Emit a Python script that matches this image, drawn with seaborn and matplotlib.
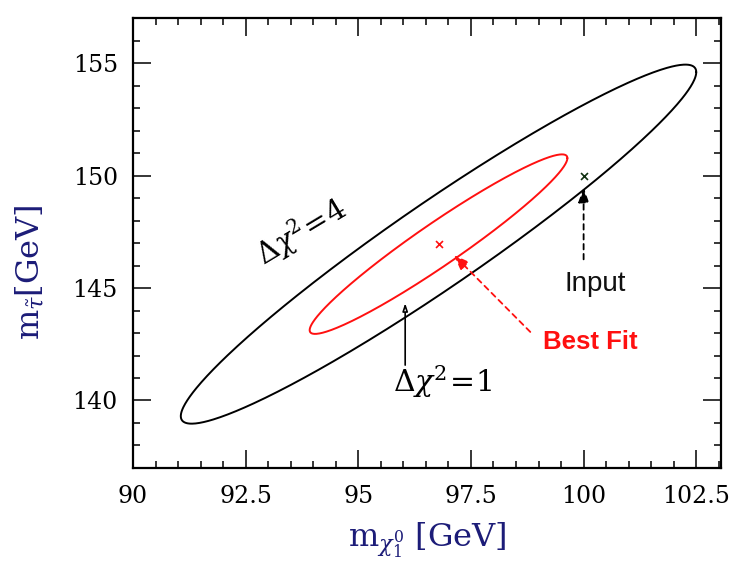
import numpy as np
import pandas as pd
import matplotlib
matplotlib.use("Agg")
import matplotlib.pyplot as plt
import seaborn as sns

# Fit result: best-fit point, 1-sigma widths and correlation of the two masses
best_fit = [96.78, 146.95]
sigma = [2.86, 3.99]
rho = 0.958
delta_chi2_levels = [1, 4]
level_colors = ["#ff1010", "#000000"]

# Generated (input) point
input_point = [100.0, 150.0]

x_ticks = [90, 92.5, 95, 97.5, 100, 102.5]
y_ticks = [140, 145, 150, 155]

sns.set_style("ticks")
plt.rcParams["font.family"] = ["DejaVu Serif"]
plt.rcParams["mathtext.fontset"] = "dejavuserif"

fig = plt.figure(figsize=(7.35, 5.71), dpi=100)
ax = fig.add_axes([0.181, 0.1804, 0.800, 0.788])

# Contours of constant delta chi^2 for a correlated Gaussian
t = np.linspace(0, 2 * np.pi, 600)
phase = np.arccos(rho)
for lev, col in zip(delta_chi2_levels, level_colors):
    r = np.sqrt(lev)
    df = pd.DataFrame({
        "m_chi": best_fit[0] + r * sigma[0] * np.cos(t),
        "m_stau": best_fit[1] + r * sigma[1] * np.cos(t + phase),
    })
    sns.lineplot(data=df, x="m_chi", y="m_stau", sort=False, estimator=None,
                 color=col, lw=1.4, ax=ax)

# Point markers
sns.scatterplot(x=[input_point[0]], y=[input_point[1]], marker="x", s=25,
                color="#103010", linewidth=1.2, ax=ax, zorder=5)
sns.scatterplot(x=[best_fit[0]], y=[best_fit[1]], marker="x", s=25,
                color="#ff1010", linewidth=1.2, ax=ax, zorder=5)

# Input annotation
ax.annotate("", xy=(input_point[0], 149.6), xytext=(input_point[0], 146.15),
            arrowprops=dict(arrowstyle="-|>,head_length=0.9,head_width=0.32",
                            color="black", lw=1.3, ls=(0, (3, 2.5))))
ax.text(100.26, 145.2, "Input", family="Liberation Sans", fontsize=20,
        ha="center", va="center", color="#101010")

# Best fit annotation
ax.annotate("", xy=(97.08, 146.55), xytext=(98.86, 142.96),
            arrowprops=dict(arrowstyle="-|>,head_length=0.9,head_width=0.35",
                            color="#ff1010", lw=1.3, ls=(0, (3, 2.5))))
ax.text(100.14, 142.6, "Best Fit", family="Liberation Sans", fontsize=18.5,
        fontweight="bold", ha="center", va="center", color="#ff1010")

# Delta chi^2 = 1 pointer
ax.annotate("", xy=(96.04, 144.45), xytext=(96.04, 141.45),
            arrowprops=dict(arrowstyle="-|>,head_length=0.45,head_width=0.15",
                            color="black", lw=1.2, fc="white"))
ax.text(96.87, 140.85, r"$\Delta\chi^2\!=\!1$", fontsize=21.5,
        ha="center", va="center", color="black")

# Delta chi^2 = 4 label along the outer contour
ax.text(93.72, 147.5, r"$\Delta\chi^2\!=\!4$", fontsize=21,
        ha="center", va="center", rotation=31, rotation_mode="anchor",
        color="black")

ax.set_xlim(90, 103.05)
ax.set_ylim(137, 157)
ax.set_xticks(x_ticks)
ax.set_xticklabels([f"{v:g}" for v in x_ticks])
ax.set_yticks(y_ticks)
ax.set_xticks(np.arange(90, 103.01, 0.5), minor=True)
ax.set_yticks(np.arange(137, 157.01, 1), minor=True)
ax.tick_params(which="both", direction="in", top=True, right=True,
               labelsize=17, colors="black")
ax.tick_params(which="major", length=13, width=1.1)
ax.tick_params(which="minor", length=5, width=1.1)
ax.tick_params(axis="x", pad=12)
ax.tick_params(axis="y", pad=11)
for s in ax.spines.values():
    s.set_visible(True)
    s.set_linewidth(1.6)
    s.set_color("black")

label_color = "#1c1c78"
ax.set_xlabel(r"$\mathregular{m}_{\chi^0_1}$ [GeV]", fontsize=23,
              color=label_color, va="center")
ax.set_ylabel(r"$\mathregular{m}_{\tilde{\tau}}$[GeV]", fontsize=23,
              color=label_color, va="center")
ax.xaxis.set_label_coords(0.5, -0.16)
ax.yaxis.set_label_coords(-0.175, 0.435)

fig.savefig("out.png", dpi=100, facecolor="white")
